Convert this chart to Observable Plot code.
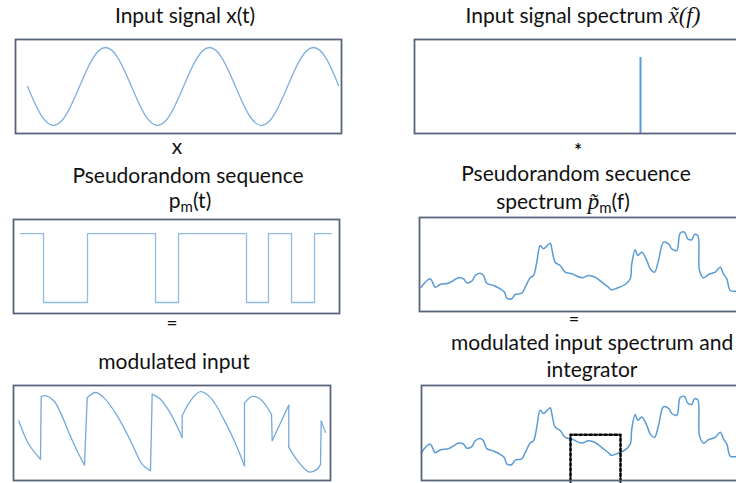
<!DOCTYPE html>
<html><head><meta charset="utf-8">
<script src="https://cdn.jsdelivr.net/npm/d3@7"></script>
<script src="https://cdn.jsdelivr.net/npm/@observablehq/plot@0.6"></script>
<style>
html,body{margin:0;padding:0;background:#fff;overflow:hidden;}
#stage{position:relative;width:736px;height:483px;overflow:hidden;background:#fff;}
</style></head><body><div id="stage"></div>
<script>
// ---------- Input signal x(t): sine read at eighth-period points ----------
const sineT = [12, 25, 38, 51, 64, 77, 90, 103, 116, 129, 142, 155, 168, 181, 194, 207, 220, 233, 246, 259, 272, 285, 298, 311, 323];
const sineV = [0, -0.71, -1, -0.71, 0, 0.71, 1, 0.71, 0, -0.71, -1, -0.71, 0, 0.71, 1, 0.71, 0, -0.71, -1, -0.71, 0, 0.71, 1, 0.71, 0.03];

// ---------- Input spectrum: single spectral line ----------
const spikeF = [226];
const spikeA = [1];

// ---------- Pseudorandom sequence p_m(t) ----------
const stepT = [7, 30, 74, 142, 165, 233, 255, 278, 301, 318];
const stepV = [1, -1, 1, -1, 1, -1, 1, -1, 1, 1];

// ---------- Pseudorandom sequence spectrum (also modulated spectrum) ----------
const specF = [1.7, 10.7, 15.7, 20.7, 29, 34, 39, 44, 47.3, 52.3, 55.7, 60.7, 64, 67.3, 74, 80.7, 85, 87.3, 92.3, 95.7, 102.3, 105.7, 110.7, 114, 117.3, 120.7, 124, 130.7, 132.3, 135.7, 140.7, 145.7, 152.3, 162.3, 169, 175.7, 182.3, 189, 191.7, 197.3, 205.7, 210.7, 212.3, 215.7, 218.3, 222.3, 227.3, 230.7, 235, 239, 244, 249, 252.3, 257.3, 260.7, 265, 268.3, 272.3, 275, 278.3, 280, 284, 289, 295.7, 300.7, 304, 307.3, 310.7, 315.7, 321];
const specA = [24.3, 32.7, 24.3, 27, 28.3, 31, 33.7, 32.7, 28.7, 30.3, 36, 38.3, 36, 28.3, 26, 22.7, 19.3, 13.3, 12.7, 17, 18.3, 24.3, 33.7, 36, 49.3, 66, 62.7, 68.3, 62.7, 49.3, 46, 39.3, 37.7, 33.7, 36, 34.3, 29.3, 24.3, 21.7, 23.3, 27, 32.7, 47.7, 61.7, 56, 59.3, 51, 42.7, 39.3, 51, 69.3, 67.7, 62.7, 61, 78.3, 79.3, 72.7, 71.7, 77, 76, 41, 33.7, 37, 39.3, 44.3, 37.7, 32.7, 21, 20.3, 21];

// ---------- Modulated input x(t)·p_m(t): continuous pieces ----------
const modT = [5.3, 15.3, 27,
  27.7, 32, 40.3, 47, 55.3, 63.7, 71,
  73.7, 82, 90.3, 103.7, 117, 128.7, 137,
  138.7, 147, 157, 168.7,
  168.7, 177, 187, 197, 210.3, 223.7, 231,
  231, 238.7, 247, 258,
  258.7, 275.3,
  275.3, 285.3, 295.3, 303.7, 307,
  307.7, 312];
const modV = [0.28, -0.31, -0.69,
  0.90, 0.92, 0.79, 0.49, -0.01, -0.48, -0.84,
  0.87, 1.0, 0.87, 0.41, -0.22, -0.82, -0.98,
  0.96, 0.83, 0.47, -0.14,
  0.41, 0.79, 1.02, 0.87, 0.32, -0.39, -0.86,
  0.73, 0.90, 0.83, 0.45,
  -0.22, 0.68,
  -0.39, -0.77, -1.01, -0.94, -0.82,
  0.28, -0.01];
const modPiece = [1, 1, 1,
  2, 2, 2, 2, 2, 2, 2,
  3, 3, 3, 3, 3, 3, 3,
  4, 4, 4, 4,
  5, 5, 5, 5, 5, 5, 5,
  6, 6, 6, 6,
  7, 7,
  8, 8, 8, 8, 8,
  9, 9];

// ---------- Integrator window ----------
const integratorF = [151, 201];
const integratorLevel = 42;
const integratorFloor = -13;

const frameColor = "#58647c";
const stage = document.getElementById("stage");

function panel(left, top, w, h, xDomain, yDomain, marks) {
  const svg = Plot.plot({
    width: w + 4, height: h + 4,
    marginTop: 2, marginRight: 2, marginBottom: 2, marginLeft: 2,
    x: {domain: xDomain, axis: null},
    y: {domain: yDomain, axis: null},
    marks: [...marks, Plot.frame({stroke: frameColor, strokeWidth: 1.8})]
  });
  svg.style.position = "absolute";
  svg.style.left = (left - 2) + "px";
  svg.style.top = (top - 2) + "px";
  svg.style.overflow = "visible";
  svg.style.maxWidth = "none";
  svg.style.background = "transparent";
  stage.appendChild(svg);
}

// Panel 1: input signal
const sineData = sineT.map((t, i) => ({t, v: sineV[i]}));
panel(15, 39, 326, 94, [0, 326], [-1.205, 1.205], [
  Plot.line(sineData, {x: "t", y: "v", curve: "natural", stroke: "#7fb0de", strokeWidth: 1.3})
]);

// Panel 2: input spectrum
const spikeData = spikeF.map((f, i) => ({f, a: spikeA[i]}));
panel(414, 39, 340, 94, [0, 340], [0, 1.237], [
  Plot.ruleX(spikeData, {x: "f", y1: 0, y2: "a", stroke: "#5b9bd5", strokeWidth: 2})
]);

// Panel 3: pseudorandom sequence
const stepData = stepT.map((t, i) => ({t, v: stepV[i]}));
panel(13, 219, 326, 94, [0, 326], [-1.32, 1.41], [
  Plot.line(stepData, {x: "t", y: "v", curve: "step-after", stroke: "#8fbbe4", strokeWidth: 1.3})
]);

// Panel 4: pseudorandom spectrum
const specData = specF.map((f, i) => ({f, a: specA[i]}));
panel(419, 217, 340, 94, [0, 340], [0, 94], [
  Plot.line(specData, {x: "f", y: "a", curve: "catmull-rom", stroke: "#5b9bd5", strokeWidth: 1.5})
]);

// Panel 5: modulated input
const modData = modT.map((t, i) => ({t, v: modV[i], piece: modPiece[i]}));
const jumps = [];
for (let p = 1; p < 9; p++) {
  const a = modData.filter(d => d.piece === p), b = modData.filter(d => d.piece === p + 1);
  jumps.push({x1: a[a.length - 1].t, y1: a[a.length - 1].v, x2: b[0].t, y2: b[0].v});
}
panel(13, 385, 317, 95, [0, 317], [-1.228, 1.177], [
  Plot.line(modData, {x: "t", y: "v", z: "piece", curve: "catmull-rom", stroke: "#74aadc", strokeWidth: 1.3}),
  Plot.link(jumps, {x1: "x1", y1: "y1", x2: "x2", y2: "y2", stroke: "#74aadc", strokeWidth: 1.3})
]);

// Panel 6: modulated spectrum and integrator
const integ = [
  {f: integratorF[0], a: integratorFloor},
  {f: integratorF[0], a: integratorLevel},
  {f: integratorF[1], a: integratorLevel},
  {f: integratorF[1], a: integratorFloor}
];
panel(421, 385, 340, 95, [2, 342], [-2.9, 90.1], [
  Plot.line(specData, {x: "f", y: "a", curve: "catmull-rom", stroke: "#5b9bd5", strokeWidth: 1.5}),
  Plot.line(integ, {x: "f", y: "a", stroke: "#000", strokeWidth: 2.5, strokeDasharray: "2.5 2.5"})
]);

// ---------- Text overlay ----------
const FONT = "Lato, 'Open Sans', sans-serif";
const SERIF = "'Liberation Serif', 'DejaVu Serif', serif";
const svgT = d3.create("svg").attr("width", 736).attr("height", 483)
  .style("position", "absolute").style("left", "0px").style("top", "0px").style("overflow", "visible")
  .attr("font-family", FONT).attr("font-size", 21).attr("fill", "#111");

function label(x, y, parts, anchor = "middle", size, weight) {
  const t = svgT.append("text").attr("x", x).attr("y", y).attr("text-anchor", anchor);
  if (size) t.attr("font-size", size);
  if (weight) t.attr("font-weight", weight);
  for (const p of parts) {
    if (typeof p === "string") { t.append("tspan").text(p); continue; }
    const s = t.append("tspan").text(p.text);
    if (p.serif) s.attr("font-family", SERIF).attr("font-style", "italic").attr("font-size", 23);
    if (p.sub) s.attr("font-size", 15).attr("baseline-shift", "-28%");
  }
}
label(185, 22.5, ["Input signal x(t)"]);
label(177, 154, ["x"]);
label(583, 22.5, ["Input signal spectrum ", {text: "x\u0303(f)", serif: true}]);
label(578, 156.5, ["*"], "middle", 18, "bold");
label(188, 183, ["Pseudorandom sequence"]);
label(190, 208, ["p", {text: "m", sub: true}, "(t)"]);
label(576, 181, ["Pseudorandom secuence"]);
label(563, 209, ["spectrum ", {text: "p\u0303", serif: true}, {text: "m", sub: true}, "(f)"]);
label(172, 330, ["="], "middle", 19);
label(174, 369, ["modulated input"]);
label(574, 324.5, ["="], "middle", 18);
label(451, 350, ["modulated input spectrum and"], "start");
label(592, 377, ["integrator"]);
stage.appendChild(svgT.node());
</script></body></html>
